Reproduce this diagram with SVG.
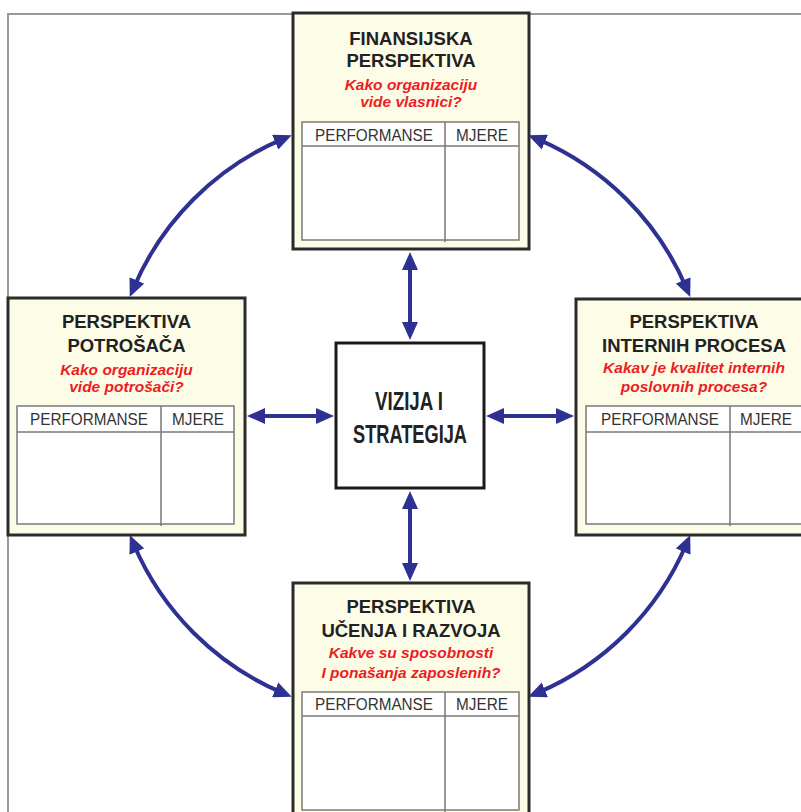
<svg xmlns="http://www.w3.org/2000/svg" width="801" height="812" viewBox="0 0 801 812">
<style>
.box{fill:#fdfde7;stroke:#2b2b2b;stroke-width:3}
.tbl{fill:#ffffff;stroke:#7a7a7a;stroke-width:1.5}
.tl{stroke:#7a7a7a;stroke-width:1.5;fill:none}
.t{font-family:"Liberation Sans",Arial,sans-serif;font-weight:bold;font-size:18.5px;fill:#222;text-anchor:middle}
.q{font-family:"Liberation Sans",Arial,sans-serif;font-weight:bold;font-style:italic;font-size:15.5px;fill:#ed1c24;text-anchor:middle}
.h{font-family:"Liberation Sans",Arial,sans-serif;font-size:17px;fill:#333;text-anchor:middle}
.c{font-family:"Liberation Sans",Arial,sans-serif;font-weight:bold;font-size:26px;fill:#222;text-anchor:middle}
.arr{fill:none;stroke:#2e3192;stroke-width:4;marker-start:url(#ah);marker-end:url(#ah)}
.frame{stroke:#9a9a9a;stroke-width:2;fill:none}
</style>
<defs>
<marker id="ah" viewBox="0 0 18 16" refX="8" refY="8" markerWidth="18" markerHeight="16" markerUnits="userSpaceOnUse" orient="auto-start-reverse">
<path d="M0,0 L18,8 L0,16 z" fill="#2e3192"/>
</marker>
</defs>
<rect width="801" height="812" fill="#ffffff"/>
<path class="frame" d="M8,812 V14 H801"/>

<g id="connectors">
<path class="arr" d="M410,262 L410,330"/>
<path class="arr" d="M257,416 L324,416"/>
<path class="arr" d="M496,416 L564,416"/>
<path class="arr" d="M410,501 L410,571"/>
<path class="arr" d="M133.7,287.7 A282,282 0 0 1 282.5,139.1"/>
<path class="arr" d="M686.3,287.7 A282,282 0 0 0 537.5,139.1"/>
<path class="arr" d="M133.7,544.3 A282,282 0 0 0 282.5,692.9"/>
<path class="arr" d="M686.3,544.3 A282,282 0 0 1 537.5,692.9"/>
</g>

<g id="finansijska" transform="translate(293,13)">
<rect class="box" x="0" y="0" width="236" height="236"/>
<text class="t" x="118" y="32">FINANSIJSKA</text>
<text class="t" x="118" y="54">PERSPEKTIVA</text>
<text class="q" x="118" y="77">Kako organizaciju</text>
<text class="q" x="118" y="94">vide vlasnici?</text>
<rect class="tbl" x="9" y="109" width="217" height="118"/>
<path class="tl" d="M9,133 H226 M152,109 V229"/>
<text class="h" x="81" y="128" textLength="118" lengthAdjust="spacingAndGlyphs">PERFORMANSE</text>
<text class="h" x="189" y="128" textLength="52" lengthAdjust="spacingAndGlyphs">MJERE</text>
</g>

<g id="potrosaca" transform="translate(8,298)">
<rect class="box" x="0" y="0" width="237" height="237"/>
<text class="t" x="118.5" y="30">PERSPEKTIVA</text>
<text class="t" x="118.5" y="54">POTROŠAČA</text>
<text class="q" x="118.5" y="77">Kako organizaciju</text>
<text class="q" x="118.5" y="94">vide potrošači?</text>
<rect class="tbl" x="9" y="108" width="217" height="118"/>
<path class="tl" d="M9,134 H226 M153,108 V228"/>
<text class="h" x="81" y="127" textLength="118" lengthAdjust="spacingAndGlyphs">PERFORMANSE</text>
<text class="h" x="190" y="127" textLength="52" lengthAdjust="spacingAndGlyphs">MJERE</text>
</g>

<g id="internih" transform="translate(576,299)">
<rect class="box" x="0" y="0" width="236" height="236"/>
<text class="t" x="118" y="29">PERSPEKTIVA</text>
<text class="t" x="118" y="53">INTERNIH PROCESA</text>
<text class="q" x="118" y="74">Kakav je kvalitet internih</text>
<text class="q" x="118" y="93">poslovnih procesa?</text>
<rect class="tbl" x="10" y="107" width="217" height="118"/>
<path class="tl" d="M10,133 H227 M154,107 V227"/>
<text class="h" x="84" y="126" textLength="118" lengthAdjust="spacingAndGlyphs">PERFORMANSE</text>
<text class="h" x="190" y="126" textLength="52" lengthAdjust="spacingAndGlyphs">MJERE</text>
</g>

<g id="ucenja" transform="translate(293,583)">
<rect class="box" x="0" y="0" width="236" height="236"/>
<text class="t" x="118" y="30">PERSPEKTIVA</text>
<text class="t" x="118" y="54">UČENJA I RAZVOJA</text>
<text class="q" x="118" y="75">Kakve su sposobnosti</text>
<text class="q" x="118" y="95">I ponašanja zaposlenih?</text>
<rect class="tbl" x="9" y="109" width="217" height="118"/>
<path class="tl" d="M9,133 H226 M152,109 V229"/>
<text class="h" x="81" y="127" textLength="118" lengthAdjust="spacingAndGlyphs">PERFORMANSE</text>
<text class="h" x="189" y="127" textLength="52" lengthAdjust="spacingAndGlyphs">MJERE</text>
</g>

<g id="vizija">
<rect x="336" y="343" width="148" height="145" fill="#ffffff" stroke="#1a1a1a" stroke-width="3"/>
<text class="c" x="409" y="410" textLength="68" lengthAdjust="spacingAndGlyphs">VIZIJA I</text>
<text class="c" x="410" y="443" textLength="114" lengthAdjust="spacingAndGlyphs">STRATEGIJA</text>
</g>
</svg>
